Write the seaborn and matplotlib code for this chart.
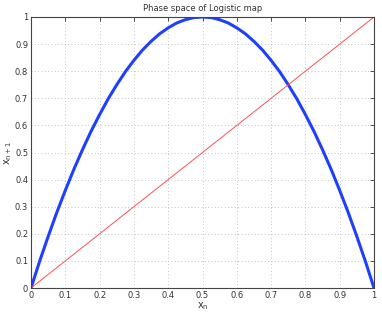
import seaborn as sns
import matplotlib
matplotlib.use("Agg")
import matplotlib.pyplot as plt
import pandas as pd

# Values
x_n = [0.0, 0.025, 0.05, 0.075, 0.1, 0.125, 0.15, 0.175, 0.2, 0.225,
       0.25, 0.275, 0.3, 0.325, 0.35, 0.375, 0.4, 0.425, 0.45, 0.475,
       0.5, 0.525, 0.55, 0.575, 0.6, 0.625, 0.65, 0.675, 0.7, 0.725,
       0.75, 0.775, 0.8, 0.825, 0.85, 0.875, 0.9, 0.925, 0.95, 0.975, 1.0]
x_next = [0.0, 0.098, 0.19, 0.278, 0.36, 0.438, 0.51, 0.578, 0.64, 0.698,
          0.75, 0.798, 0.84, 0.878, 0.91, 0.938, 0.96, 0.978, 0.99, 0.998,
          1.0, 0.998, 0.99, 0.978, 0.96, 0.938, 0.91, 0.878, 0.84, 0.798,
          0.75, 0.698, 0.64, 0.578, 0.51, 0.438, 0.36, 0.278, 0.19, 0.098, 0.0]
diag_x = [0.0, 1.0]
diag_y = [0.0, 1.0]
ticks = [0, 0.1, 0.2, 0.3, 0.4, 0.5, 0.6, 0.7, 0.8, 0.9, 1]
tick_labels = ["0", "0.1", "0.2", "0.3", "0.4", "0.5", "0.6", "0.7", "0.8", "0.9", "1"]

sns.set_style("white")
plt.rcParams['font.family'] = ['DejaVu Sans']

curve = pd.DataFrame({"x": x_n, "y": x_next})
diag = pd.DataFrame({"x": diag_x, "y": diag_y})

fig = plt.figure(figsize=(3.82, 3.14), dpi=100)
ax = fig.add_axes([31 / 382, 26 / 314, 343 / 382, 271 / 314])

sns.lineplot(data=curve, x="x", y="y", ax=ax, color="#1f3fff", linewidth=2.2,
             sort=False)
sns.lineplot(data=diag, x="x", y="y", ax=ax, color="#ff5050", linewidth=0.7)

ax.set_xlim(0, 1)
ax.set_ylim(0, 1)
ax.set_xticks(ticks)
ax.set_yticks(ticks)
ax.set_xticklabels(tick_labels)
ax.set_yticklabels(tick_labels)
ax.tick_params(direction="in", length=3, width=0.6, labelsize=6,
               colors="#333333", pad=2, top=True, right=True)
ax.grid(True, linestyle=(0, (1, 3)), color="#b0b0b0", linewidth=0.6)
for s in ax.spines.values():
    s.set_color("#444444")
    s.set_linewidth(0.8)

ax.set_title("Phase space of Logistic map", fontsize=6, color="#333333", pad=4)
ax.set_xlabel("$\\mathregular{x_n}$", fontsize=7, color="#333333", labelpad=0)
ax.set_ylabel("$\\mathregular{x_{n+1}}$", fontsize=7, color="#333333", labelpad=1)

fig.savefig("out.png", dpi=100)
